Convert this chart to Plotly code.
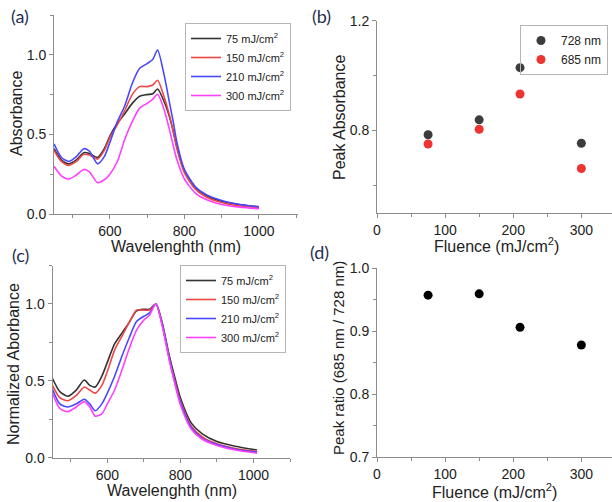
import plotly.graph_objects as go

# ---------------- data ----------------
series_names = ["75 mJ/cm<sup>2</sup>", "150 mJ/cm<sup>2</sup>", "210 mJ/cm<sup>2</sup>", "300 mJ/cm<sup>2</sup>"]
series_colors = ["#333333", "#f04545", "#4848ff", "#ff40ff"]

# panel (a): absorbance spectra
wl_a = [450, 470, 490, 510, 530, 545, 567, 585, 600, 620, 640, 660, 680, 700, 715, 728,
        745, 760, 770, 780, 800, 830, 860, 900, 950, 1000]
abs_75 = [0.41, 0.34, 0.315, 0.34, 0.385, 0.38, 0.355, 0.41, 0.49, 0.57, 0.63, 0.695, 0.74, 0.75, 0.755, 0.785,
          0.71, 0.61, 0.52, 0.42, 0.27, 0.165, 0.115, 0.08, 0.058, 0.045]
abs_150 = [0.40, 0.33, 0.305, 0.33, 0.375, 0.37, 0.345, 0.40, 0.48, 0.56, 0.65, 0.75, 0.80, 0.80, 0.81, 0.84,
           0.74, 0.62, 0.52, 0.41, 0.26, 0.155, 0.105, 0.072, 0.05, 0.04]
abs_210 = [0.44, 0.355, 0.33, 0.36, 0.41, 0.395, 0.315, 0.36, 0.45, 0.58, 0.68, 0.82, 0.915, 0.945, 0.97, 1.03,
           0.88, 0.70, 0.58, 0.45, 0.28, 0.17, 0.12, 0.085, 0.06, 0.045]
abs_300 = [0.30, 0.24, 0.22, 0.245, 0.28, 0.265, 0.197, 0.215, 0.25, 0.33, 0.47, 0.58, 0.665, 0.695, 0.72, 0.752,
           0.66, 0.53, 0.43, 0.34, 0.22, 0.13, 0.09, 0.06, 0.043, 0.033]

# panel (c): normalized absorbance spectra
wl_c = [450, 470, 492, 515, 537, 552, 567, 585, 600, 620, 640, 660, 680, 700, 715, 733,
        750, 770, 785, 800, 830, 860, 900, 950, 1010]
norm_75 = [0.515, 0.43, 0.40, 0.44, 0.505, 0.47, 0.46, 0.53, 0.62, 0.74, 0.81, 0.88, 0.955, 0.965, 0.965, 1.0,
           0.88, 0.66, 0.52, 0.39, 0.225, 0.155, 0.105, 0.075, 0.05]
norm_150 = [0.47, 0.39, 0.37, 0.405, 0.46, 0.44, 0.42, 0.47, 0.56, 0.70, 0.79, 0.88, 0.96, 0.96, 0.96, 1.0,
            0.87, 0.64, 0.50, 0.37, 0.205, 0.135, 0.09, 0.06, 0.04]
norm_210 = [0.445, 0.35, 0.33, 0.35, 0.38, 0.35, 0.305, 0.35, 0.42, 0.53, 0.66, 0.78, 0.885, 0.92, 0.94, 1.0,
            0.87, 0.64, 0.49, 0.36, 0.195, 0.125, 0.085, 0.055, 0.035]
norm_300 = [0.42, 0.32, 0.30, 0.33, 0.365, 0.33, 0.27, 0.285, 0.35, 0.44, 0.57, 0.71, 0.83, 0.895, 0.925, 1.0,
            0.86, 0.63, 0.48, 0.345, 0.185, 0.12, 0.08, 0.05, 0.03]

# panel (b): peak absorbance vs fluence
fluence = [75, 150, 210, 300]
peak_728 = [0.785, 0.839, 1.029, 0.754]
peak_685 = [0.751, 0.805, 0.933, 0.662]

# panel (d): peak ratio vs fluence
peak_ratio = [0.957, 0.959, 0.906, 0.878]

# ---------------- figure ----------------
W, H = 612, 502
FONT = "Liberation Sans, Arial, sans-serif"
TXT = "#222222"
AXC = "#8c8c8c"

fig = go.Figure()

spec_a = [abs_75, abs_150, abs_210, abs_300]
spec_c = [norm_75, norm_150, norm_210, norm_300]
for name, col, ys in zip(series_names, series_colors, spec_a):
    fig.add_trace(go.Scatter(x=wl_a, y=ys, mode="lines", name=name,
                             line=dict(color=col, width=1.6, shape="spline", smoothing=0.7),
                             xaxis="x", yaxis="y", legend="legend"))
for name, col, ys in zip(series_names, series_colors, spec_c):
    fig.add_trace(go.Scatter(x=wl_c, y=ys, mode="lines", name=name,
                             line=dict(color=col, width=1.6, shape="spline", smoothing=0.7),
                             xaxis="x3", yaxis="y3", legend="legend3"))

fig.add_trace(go.Scatter(x=fluence, y=peak_728, mode="markers", name="728 nm",
                         marker=dict(color="#3c3c3c", size=9),
                         xaxis="x2", yaxis="y2", legend="legend2"))
fig.add_trace(go.Scatter(x=fluence, y=peak_685, mode="markers", name="685 nm",
                         marker=dict(color="#ee3333", size=9),
                         xaxis="x2", yaxis="y2", legend="legend2"))
fig.add_trace(go.Scatter(x=fluence, y=peak_ratio, mode="markers", name="ratio",
                         marker=dict(color="#000000", size=9), showlegend=False,
                         xaxis="x4", yaxis="y4"))


def px_x(p):
    return p / W


def px_y(p):
    return 1 - p / H


def axis(domain, rng, dtick, minor_dtick, anchor, tickformat=None):
    d = dict(domain=domain, range=rng, dtick=dtick, tick0=0, anchor=anchor, automargin=False,
             showline=True, linecolor=AXC, linewidth=1, showgrid=False, zeroline=False,
             ticks="outside", ticklen=4, tickwidth=1, tickcolor=AXC,
             minor=dict(ticks="outside", ticklen=3, tickwidth=1, tickcolor=AXC, dtick=minor_dtick, tick0=0,
                        showgrid=False),
             tickfont=dict(family=FONT, size=14, color=TXT))
    if tickformat:
        d["tickformat"] = tickformat
    return d


fig.update_layout(
    template="none",
    width=W, height=H,
    margin=dict(l=0, r=0, t=0, b=0, autoexpand=False),
    paper_bgcolor="white", plot_bgcolor="white",
    font=dict(family=FONT, color=TXT),
    xaxis=axis([px_x(54), px_x(298)], [450, 1105], 200, 100, "y"),
    yaxis=axis([px_y(214), px_y(15)], [0, 1.25], 0.5, 0.25, "x", ".1f"),
    xaxis2=axis([px_x(377), 1.0], [0, 345], 100, 50, "y2"),
    yaxis2=axis([px_y(213), px_y(20.7)], [0.5, 1.2], 0.4, 0.2, "x2", ".1f"),
    xaxis3=axis([px_x(52.5), px_x(290)], [450, 1100], 200, 100, "y3"),
    yaxis3=axis([px_y(457.7), px_y(265.5)], [0, 1.25], 0.5, 0.25, "x3", ".1f"),
    xaxis4=axis([px_x(377), 1.0], [0, 345], 100, 50, "y4"),
    yaxis4=axis([px_y(457.3), px_y(268)], [0.7, 1.0], 0.1, 0.05, "x4", ".1f"),
    legend=dict(x=px_x(291), y=px_y(23), xanchor="right", yanchor="top",
                bgcolor="white", bordercolor="#b5b5b5", borderwidth=1,
                font=dict(family=FONT, size=11, color=TXT), tracegroupgap=0, itemwidth=30),
    legend2=dict(x=px_x(608), y=px_y(25), xanchor="right", yanchor="top",
                 bgcolor="rgba(255,255,255,0)", bordercolor="#b5b5b5", borderwidth=1,
                 font=dict(family=FONT, size=12, color=TXT), tracegroupgap=0, itemwidth=30),
    legend3=dict(x=px_x(286), y=px_y(265), xanchor="right", yanchor="top",
                 bgcolor="white", bordercolor="#b5b5b5", borderwidth=1,
                 font=dict(family=FONT, size=11, color=TXT), tracegroupgap=0, itemwidth=30),
)

# axis titles
titles = [
    ("Wavelenghth (nm)", 176, 246, 0, 16),
    ("Absorbance", 16, 114, -90, 16),
    ("Fluence (mJ/cm<sup>2</sup>)", 496, 245, 0, 16),
    ("Peak Absorbance", 339, 117, -90, 16),
    ("Wavelenghth (nm)", 172, 490, 0, 16),
    ("Normalized Aborbance", 13, 364, -90, 16),
    ("Fluence (mJ/cm<sup>2</sup>)", 494, 491, 0, 16),
    ("Peak ratio (685 nm / 728 nm)", 338, 358, -90, 15),
]
for text, tx, ty, ang, fs in titles:
    fig.add_annotation(text=text, x=px_x(tx), y=px_y(ty), xref="paper", yref="paper",
                       xanchor="center", yanchor="middle", showarrow=False, textangle=ang,
                       font=dict(family=FONT, size=fs, color=TXT))

for label, (lx, ly) in {"(a)": (20, 16), "(b)": (321, 16), "(c)": (20, 255), "(d)": (319, 252)}.items():
    fig.add_annotation(text=label, x=px_x(lx), y=px_y(ly), xref="paper", yref="paper",
                       xanchor="center", yanchor="middle", showarrow=False,
                       font=dict(family="Lato, Open Sans, sans-serif", size=18, color="#1f3150"))

fig.write_html("out.html", config={"displayModeBar": False},
               post_script="document.body.style.margin='0';document.body.style.padding='0';")
